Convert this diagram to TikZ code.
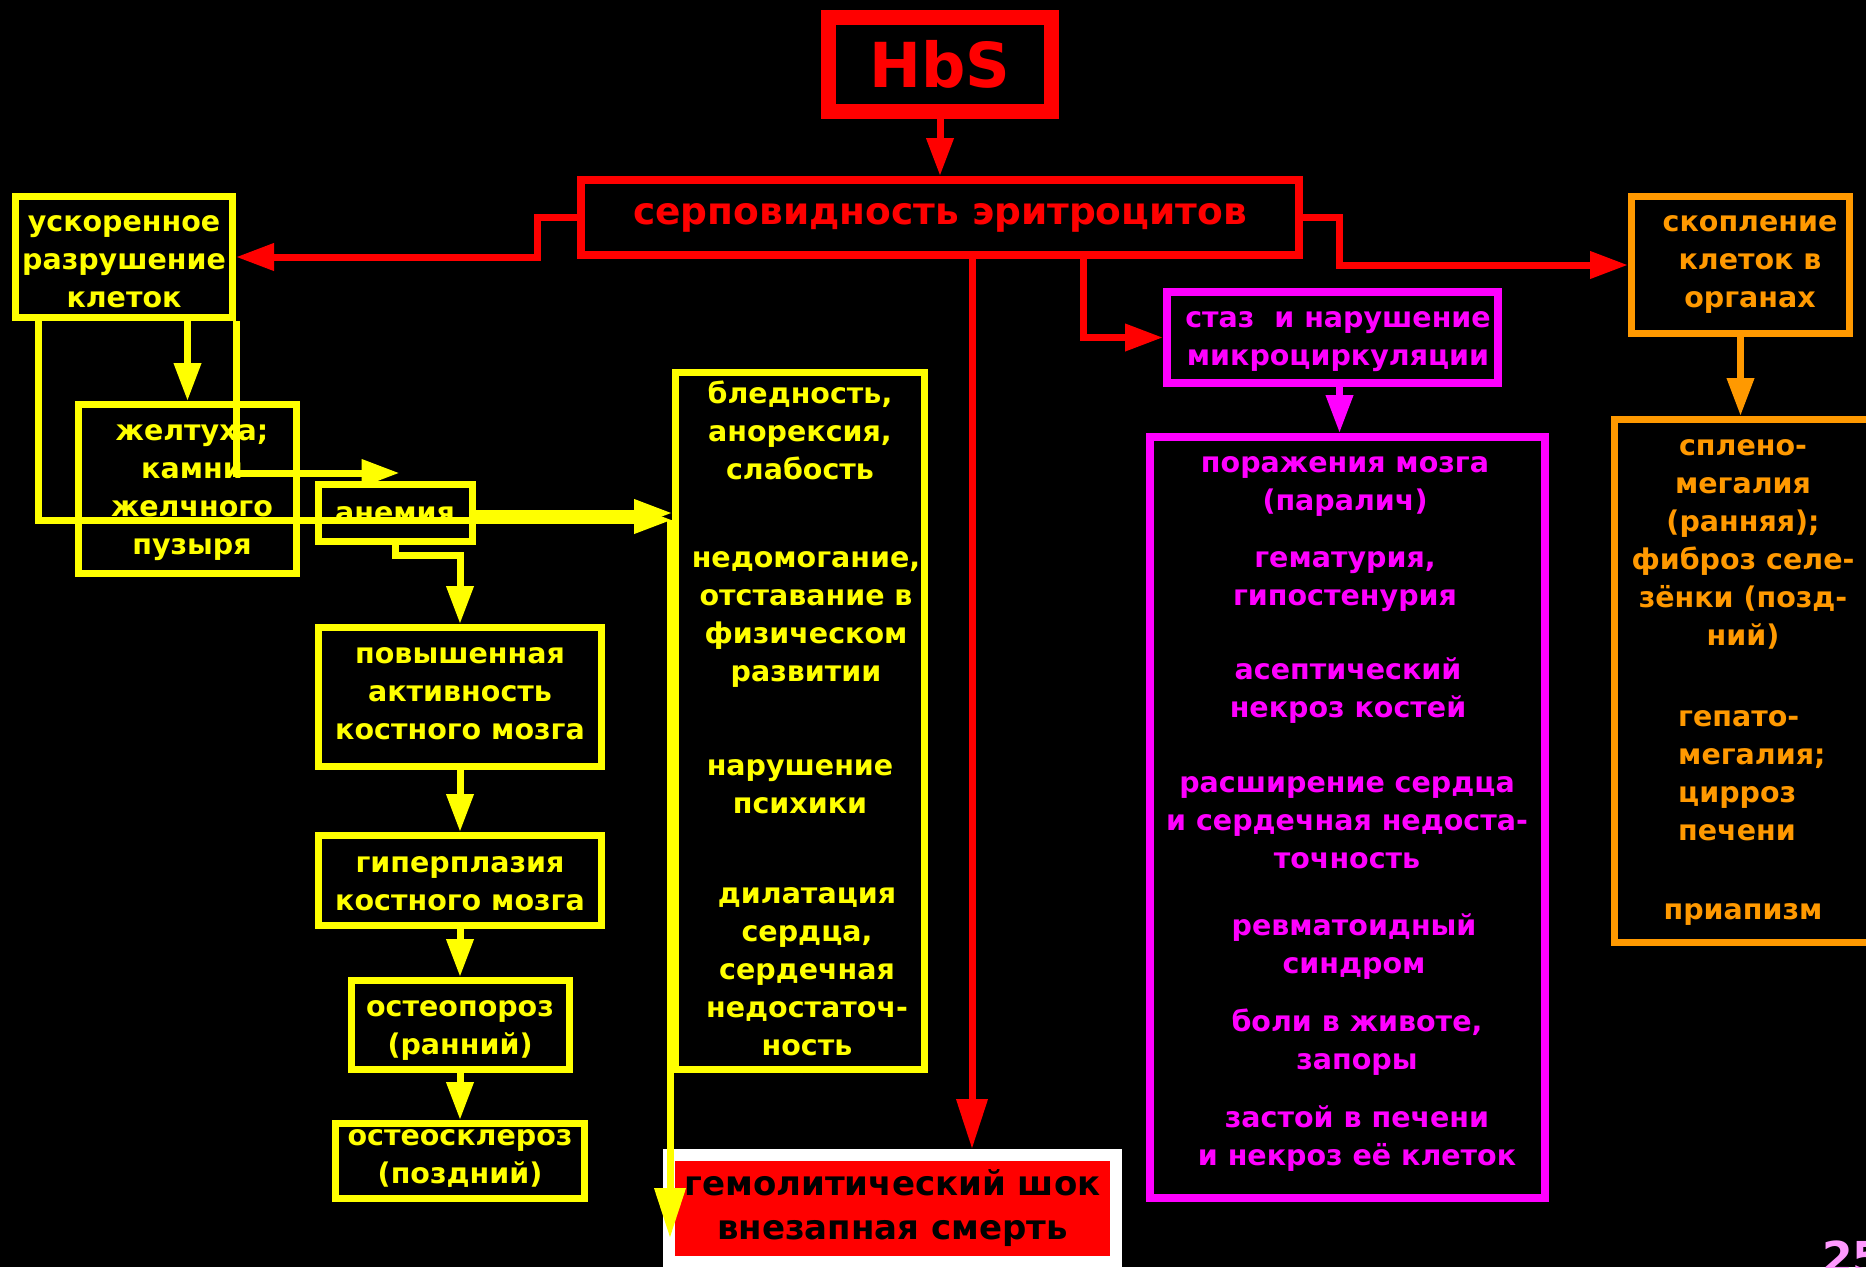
\documentclass[tikz,border=0pt]{standalone}
\usepackage{fontspec}
\setmainfont{DejaVu Sans}
\usetikzlibrary{arrows.meta}
\definecolor{cy}{HTML}{FFFF00}
\definecolor{cr}{HTML}{FF0000}
\definecolor{cm}{HTML}{FF00FF}
\definecolor{co}{HTML}{FF9900}
\definecolor{cp}{HTML}{FF99FF}
\newcommand\ts{\rule{0pt}{30pt}}
\begin{document}
\begin{tikzpicture}[x=1pt,y=-1pt,
  font=\fontsize{28.5}{38}\selectfont\bfseries,
  box/.style={draw, inner sep=0pt},
  ybox/.style={box, draw=cy, line width=7pt},
  mbox/.style={box, draw=cm, line width=8pt},
  obox/.style={box, draw=co, line width=7pt},
  tx/.style={anchor=north, align=center, inner sep=0pt},
  ytext/.style={tx, text=cy},
  mtext/.style={tx, text=cm},
  otext/.style={tx, text=co},
  tip/.style={-{Triangle[length=38pt,width=26pt]}},
  bigtip/.style={-{Triangle[length=50pt,width=30pt]}},
  rarr/.style={draw=cr, line width=7pt, tip},
  yarr/.style={draw=cy, line width=7pt, tip},
  marr/.style={draw=cm, line width=7pt, tip},
  oarr/.style={draw=co, line width=7pt, tip}]
\fill[black] (0,0) rectangle (1866,1267);
\useasboundingbox (0,0) rectangle (1866,1267);

% red
\node[box, draw=cr, text=cr, line width=15pt, minimum width=223pt, minimum height=94pt,
  font=\fontsize{62}{62}\selectfont\bfseries] (hbs) at (940,64.5) {HbS};
\node[box, draw=cr, text=cr, line width=8pt, minimum width=718pt, minimum height=75pt,
  font=\fontsize{37.5}{40}\selectfont\bfseries] (serp) at (940,217.5) {серповидность эритроцитов\vphantom{q}};
\node[box, draw=white, fill=cr, text=black, line width=12pt, minimum width=447pt, minimum height=107pt,
  align=center, font=\fontsize{34}{44}\selectfont\bfseries] (gemol) at (892.5,1208.5) {гемолитический шок\\внезапная смерть};

% yellow boxes
\node[ybox, minimum width=217pt, minimum height=121pt] (usk) at (124,257) {};
\node[ybox, minimum width=218pt, minimum height=169pt] (zhel) at (187.5,489) {};
\node[ybox, minimum width=154pt, minimum height=57pt] (anem) at (395.5,513) {};
\node[ybox, minimum width=283pt, minimum height=139pt] (povysh) at (460,697) {};
\node[ybox, minimum width=283pt, minimum height=90pt] (giper) at (460,880.5) {};
\node[ybox, minimum width=218pt, minimum height=89pt] (osteop) at (460,1025) {};
\node[ybox, minimum width=249pt, minimum height=75pt] (osteoskl) at (460,1161) {};
\node[ybox, minimum width=249pt, minimum height=697pt] (bigY) at (800,721) {};
% yellow texts
\node[ytext] (tusk) at (124,201) {\ts ускоренное\\разрушение\\клеток};
\node[ytext] (tzhel) at (192,410) {\ts желтуха;\\камни\\желчного\\пузыря};
\node[ytext] (tanem) at (395,492) {\ts анемия};
\node[ytext] (tpov) at (460,633) {\ts повышенная\\активность\\костного мозга};
\node[ytext] (tgip) at (460,842) {\ts гиперплазия\\костного мозга};
\node[ytext] (tosp) at (460,986) {\ts остеопороз\\(ранний)};
\node[ytext] (tosk) at (460,1115) {\ts остеосклероз\\(поздний)};
\node[ytext] (y1) at (800,373) {\ts бледность,\\анорексия,\\слабость};
\node[ytext] (y2) at (806,537) {\ts недомогание,\\отставание в\\физическом\\развитии};
\node[ytext] (y3) at (800,745) {\ts нарушение\\психики};
\node[ytext] (y4) at (807,873) {\ts дилатация\\сердца,\\сердечная\\недостаточ-\\ность};

% magenta
\node[mbox, minimum width=331pt, minimum height=91pt] (staz) at (1332.5,337.5) {};
\node[mtext] (tstaz) at (1338,297) {\ts стаз~ и нарушение\\микроциркуляции};
\node[mbox, minimum width=395pt, minimum height=761pt] (bigM) at (1347.5,817.5) {};
\node[mtext] (m1) at (1345,442) {\ts поражения мозга\\(паралич)};
\node[mtext] (m2) at (1345,537) {\ts гематурия,\\гипостенурия};
\node[mtext] (m3) at (1348,649) {\ts асептический\\некроз костей};
\node[mtext] (m4) at (1347,762) {\ts расширение сердца\\и сердечная недоста-\\точность};
\node[mtext] (m5) at (1354,905) {\ts ревматоидный\\синдром};
\node[mtext] (m6) at (1357,1001) {\ts боли в животе,\\запоры};
\node[mtext] (m7) at (1357,1097) {\ts застой в печени\\и некроз её клеток};

% orange
\node[obox, minimum width=218pt, minimum height=137pt] (skop) at (1740.5,265) {};
\node[otext] (tskop) at (1750,201) {\ts скопление\\клеток в\\органах};
\node[obox, minimum width=257pt, minimum height=523pt] (bigO) at (1743,681) {};
\node[otext] (o1) at (1743,425) {\ts сплено-\\мегалия\\(ранняя);\\фиброз селе-\\зёнки (позд-\\ний)};
\node[otext, align=left, anchor=north west] (o2) at (1678,696) {\ts гепато-\\мегалия;\\цирроз\\печени};
\node[otext] (o3) at (1743,889) {\ts приапизм};

\node[text=cp, inner sep=0pt, anchor=base west, font=\fontsize{44}{44}\selectfont\bfseries] (pg) at (1822,1273) {25};

% red connectors
\draw[rarr] (hbs.south) -- (serp.north);
\draw[rarr] (serp.west) -- ++(-40,0) |- (usk.east);
\draw[rarr] (serp.east) -- ++(36,0) |- (skop.west);
\draw[rarr, bigtip] ([xshift=32pt]serp.south) -- ([xshift=32pt]serp.south |- gemol.north);
\draw[rarr] ([xshift=143pt]serp.south) |- (staz.west);

% magenta / orange connectors
\draw[marr] ([xshift=7pt]staz.south) -- ([xshift=7pt]staz.south |- bigM.north);
\draw[oarr] (skop.south) -- (skop.south |- bigO.north);

% yellow connectors
\coordinate (ylev) at (0,520);
\coordinate (ytip) at (670,1238);
\draw[yarr] (zhel.north |- usk.south) -- (zhel.north);
\draw[yarr] ([xshift=26pt]usk.south west) |- (bigY.west |- ylev);
\draw[yarr] (anem.east) -- (anem.east -| bigY.west);
\draw[yarr] (usk.south east) |- ([xshift=4pt,yshift=8pt]anem.north);
\draw[yarr] (anem.south) -- ++(0,10) -| (povysh.north);
\draw[yarr] (povysh.south) -- (giper.north);
\draw[yarr] (giper.south) -- (osteop.north);
\draw[yarr] (osteop.south) -- (osteoskl.north);
\draw[yarr, bigtip] (ytip |- ylev) -- (ytip);
\end{tikzpicture}
\end{document}
